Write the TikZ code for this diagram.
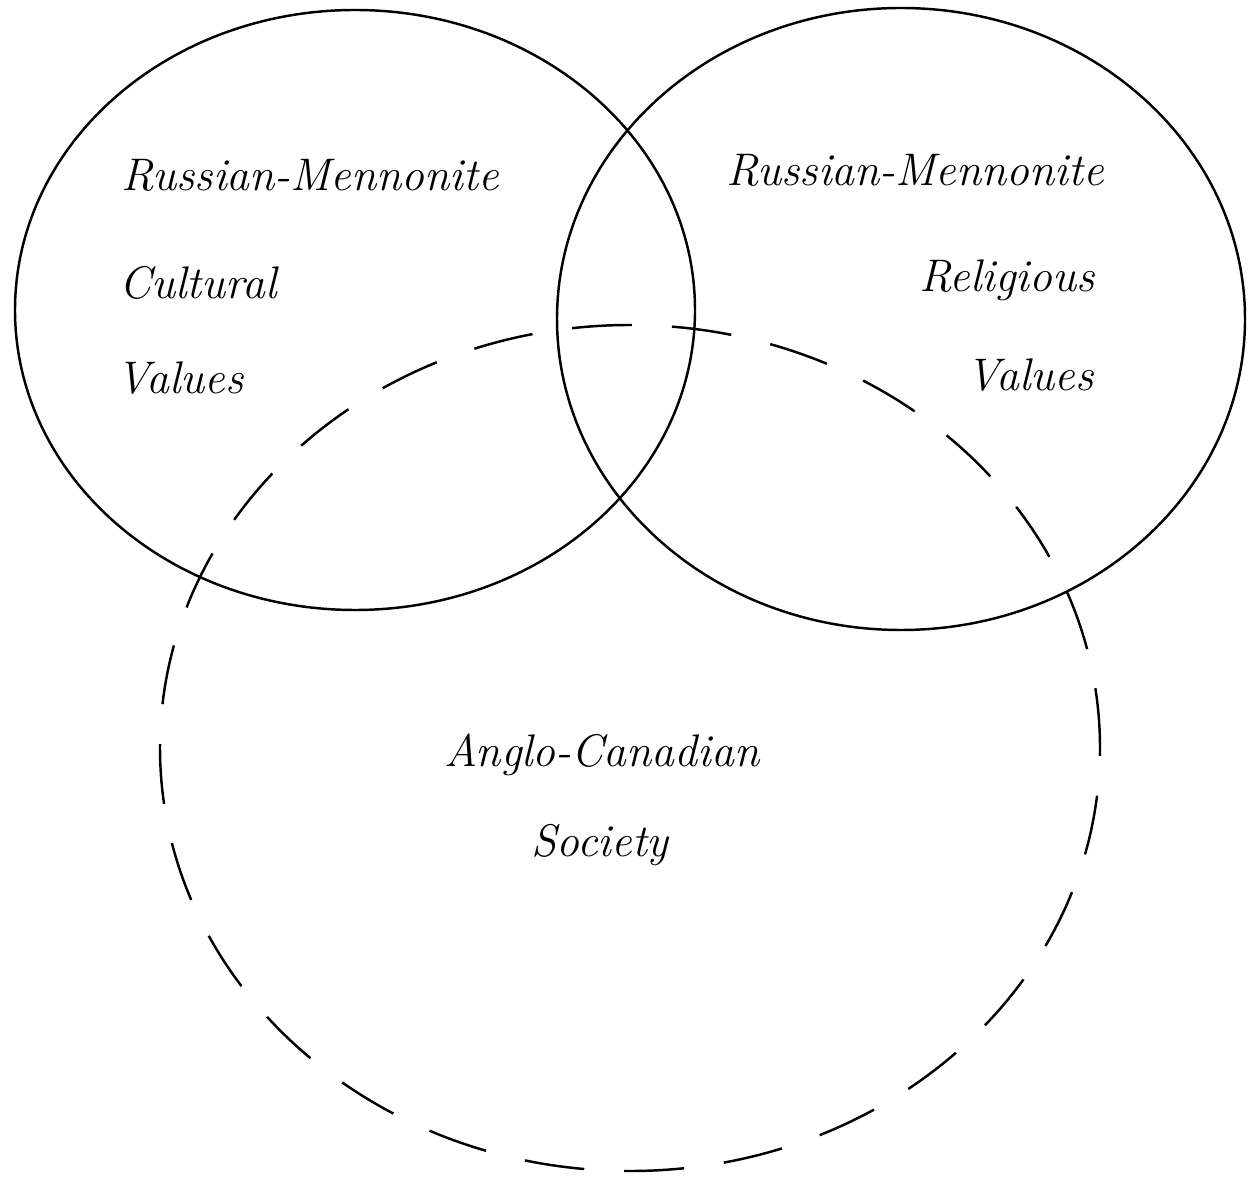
\documentclass[tikz,border=0pt]{standalone}
\usepackage{tikz}
\usetikzlibrary{shapes.geometric}

\begin{document}
\begin{tikzpicture}[venn/.style={draw,ellipse,line width=0.7pt,inner sep=0pt},society/.style={venn,dash pattern=on 0.6cm off 0.4cm},lbl/.style={font=\fontsize{13}{15}\selectfont\itshape,inner sep=1pt}]
\useasboundingbox (0,0) rectangle (12.56,11.86);
% the three value circles
\node[venn,minimum width=6.8cm,minimum height=6.0cm](cultural) at (3.55,8.76){};
\node[venn,minimum width=6.88cm,minimum height=6.22cm](religious) at (9.01,8.67){};
\node[society,minimum width=9.4cm,minimum height=8.46cm](anglo) at (6.30,4.38){};
% labels
\node[lbl](cultA) at (3.10,10.11){Russian-Mennonite}; \node[lbl](cultB) at (1.98,9.03){Cultural}; \node[lbl](cultC) at (1.80,8.08){Values};
\node[lbl](relA) at (9.15,10.16){Russian-Mennonite}; \node[lbl](relB) at (10.07,9.06){Religious}; \node[lbl](relC) at (10.30,8.11){Values};
\node[lbl](socA) at (6.02,4.31){Anglo-Canadian}; \node[lbl](socB) at (6.00,3.41){Society};
\end{tikzpicture}
\end{document}
